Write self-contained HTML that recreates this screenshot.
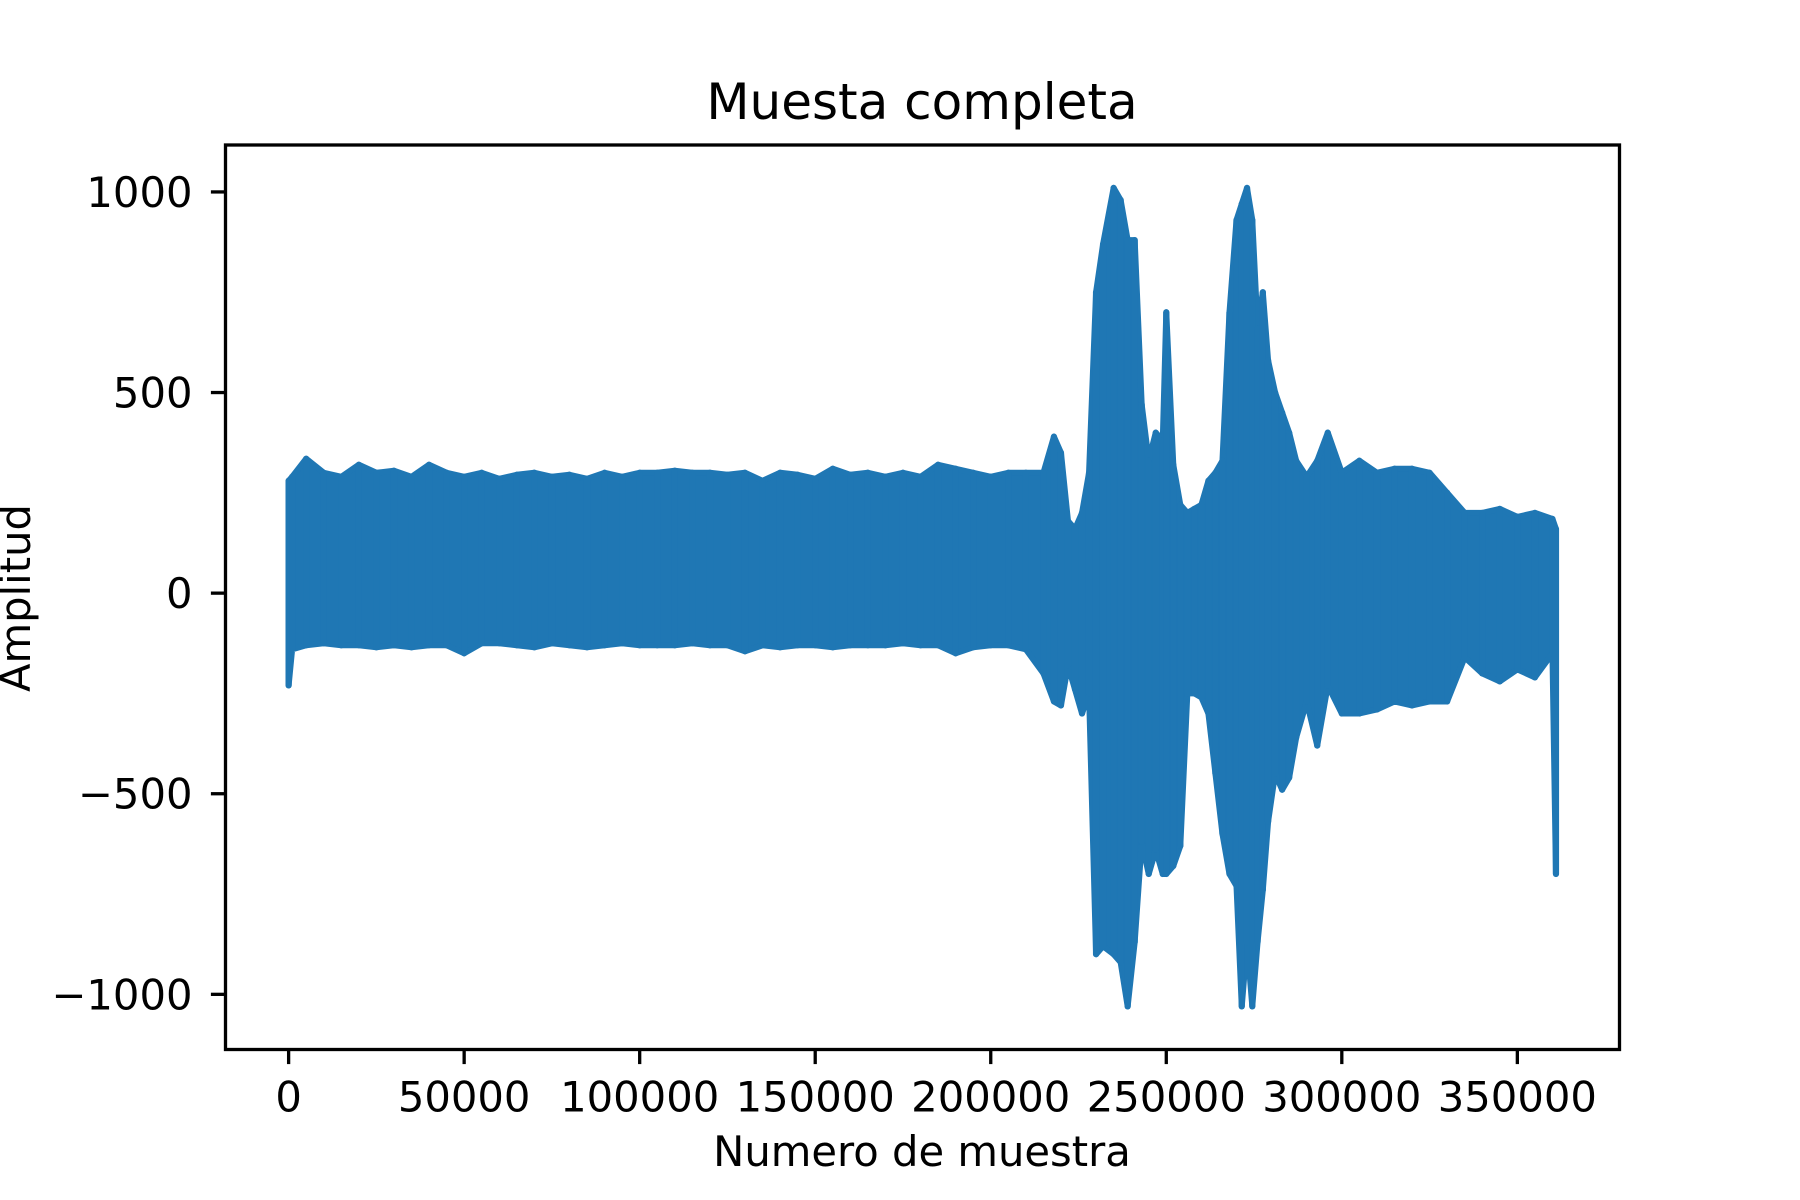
<!DOCTYPE html>
<html><head><meta charset="utf-8"><style>
html,body{margin:0;padding:0;background:#fff}
svg{display:block}
text{font-family:"DejaVu Sans","Liberation Sans",sans-serif;fill:#000}
</style></head><body>
<svg id="chart" width="1800" height="1200" viewBox="0 0 1800 1200" xmlns="http://www.w3.org/2000/svg">
<rect width="1800" height="1200" fill="#fff"/>
<text x="922" y="119" font-size="50" text-anchor="middle">Muesta completa</text>
<g id="plot"></g>
<g id="axes"></g>
<text x="922" y="1166" font-size="41.7" text-anchor="middle">Numero de muestra</text>
<text x="0" y="0" font-size="41.7" text-anchor="middle" transform="translate(30,598) rotate(-90)">Amplitud</text>
</svg>
<script>
const samples = [0,1000,5000,10000,15000,20000,25000,30000,35000,40000,45000,50000,55000,60000,65000,70000,75000,80000,85000,90000,95000,100000,105000,110000,115000,120000,125000,130000,135000,140000,145000,150000,155000,160000,165000,170000,175000,180000,185000,190000,195000,200000,205000,210000,215000,218000,220000,222000,224000,226000,228000,230000,232000,235000,237000,239000,241000,243000,245000,247000,249000,250000,252000,254000,256000,258000,260000,262000,264000,266000,268000,270000,271500,273000,274500,276000,277500,279000,281000,283000,285000,287000,290000,293000,296000,300000,305000,310000,315000,320000,325000,330000,335000,340000,345000,350000,355000,360000,361000];
const upper = [280,290,335,300,290,320,300,305,290,320,300,290,300,285,295,300,290,295,285,300,290,300,300,305,300,300,295,300,280,300,295,285,310,295,300,290,300,290,320,310,300,290,300,300,300,390,350,180,160,200,300,750,870,1010,980,880,880,470,330,400,380,700,320,220,200,210,220,280,300,330,700,930,970,1010,930,660,750,580,500,450,400,330,290,330,400,300,330,300,310,310,300,250,200,200,210,190,200,185,160];
const lower = [-230,-140,-130,-125,-130,-130,-135,-130,-135,-130,-130,-150,-125,-125,-130,-135,-125,-130,-135,-130,-125,-130,-130,-130,-125,-130,-130,-145,-130,-135,-130,-130,-135,-130,-130,-130,-125,-130,-130,-150,-135,-130,-130,-140,-200,-270,-280,-180,-240,-300,-250,-900,-880,-900,-920,-1030,-870,-620,-700,-640,-700,-700,-680,-630,-250,-250,-260,-300,-450,-600,-700,-730,-1030,-870,-1030,-870,-740,-570,-450,-490,-460,-360,-270,-380,-230,-300,-300,-290,-270,-280,-270,-270,-160,-200,-220,-190,-210,-150,-700];
const xTicks = [0,50000,100000,150000,200000,250000,300000,350000];
const yTicks = [-1000,-500,0,500,1000];
const yTickLabels = ['\u22121000','\u2212500','0','500','1000'];

const L=225.5,R=1619.5,T=145,B=1049.5;
const xMin=-17980,xMax=379100,yMin=-1137.5,yMax=1117;
function sx(v){return L+(v-xMin)/(xMax-xMin)*(R-L);}
function sy(v){return B-(v-yMin)/(yMax-yMin)*(B-T);}
const NS='http://www.w3.org/2000/svg';
const plot=document.getElementById('plot');
const axes=document.getElementById('axes');
const C='#1f77b4';

let pts=[];
for(let i=0;i<samples.length;i++) pts.push(sx(samples[i])+','+sy(upper[i]));
for(let i=samples.length-1;i>=0;i--) pts.push(sx(samples[i])+','+sy(lower[i]));
const poly=document.createElementNS(NS,'polygon');


poly.setAttribute('points',pts.join(' '));
poly.setAttribute('fill',C);poly.setAttribute('stroke',C);
poly.setAttribute('stroke-width','6');poly.setAttribute('stroke-linejoin','round');
plot.appendChild(poly);
for(let i=0;i<samples.length;i++){
  const l=document.createElementNS(NS,'line');
  
  
  l.setAttribute('x1',sx(samples[i]));l.setAttribute('x2',sx(samples[i]));
  l.setAttribute('y1',sy(upper[i]));l.setAttribute('y2',sy(lower[i]));
  l.setAttribute('stroke',C);l.setAttribute('stroke-width','6.25');l.setAttribute('stroke-linecap','round');
  plot.appendChild(l);
}

const frame=document.createElementNS(NS,'rect');


frame.setAttribute('x',L);frame.setAttribute('y',T);frame.setAttribute('width',R-L);frame.setAttribute('height',B-T);
frame.setAttribute('fill','none');frame.setAttribute('stroke','#000');frame.setAttribute('stroke-width','3.3');
axes.appendChild(frame);

xTicks.forEach(v=>{
  const x=sx(v);
  const t=document.createElementNS(NS,'line');
  
  
  t.setAttribute('x1',x);t.setAttribute('x2',x);t.setAttribute('y1',B);t.setAttribute('y2',B+14.6);
  t.setAttribute('stroke','#000');t.setAttribute('stroke-width','3.3');
  axes.appendChild(t);
  const tx=document.createElementNS(NS,'text');
  
  
  tx.setAttribute('x',x);tx.setAttribute('y',B+62);tx.setAttribute('font-size','41.7');tx.setAttribute('text-anchor','middle');
  tx.textContent=String(v);
  axes.appendChild(tx);
});
yTicks.forEach((v,i)=>{
  const y=sy(v);
  const t=document.createElementNS(NS,'line');
  
  
  t.setAttribute('x1',L-14.6);t.setAttribute('x2',L);t.setAttribute('y1',y);t.setAttribute('y2',y);
  t.setAttribute('stroke','#000');t.setAttribute('stroke-width','3.3');
  axes.appendChild(t);
  const tx=document.createElementNS(NS,'text');
  
  
  tx.setAttribute('x',L-33);tx.setAttribute('y',y+15);tx.setAttribute('font-size','41.7');tx.setAttribute('text-anchor','end');
  tx.textContent=yTickLabels[i];
  axes.appendChild(tx);
});
</script>
</body></html>
